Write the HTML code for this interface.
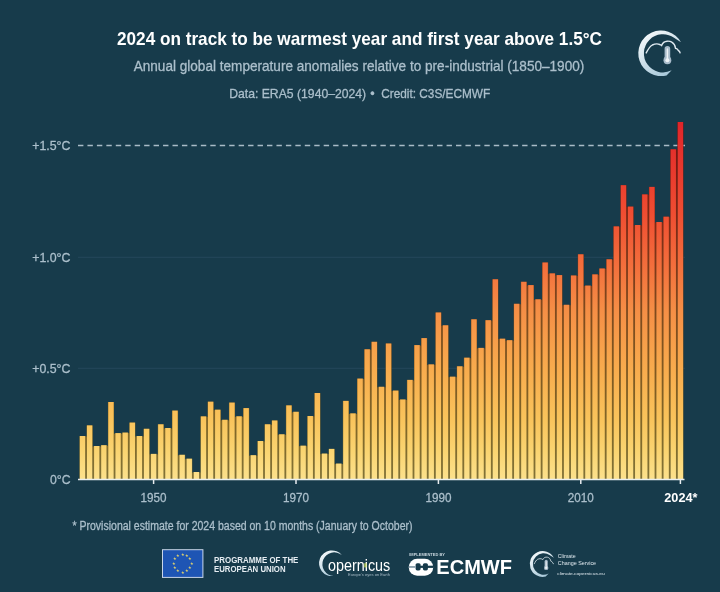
<!DOCTYPE html>
<html lang="en"><head><meta charset="utf-8"><title>2024 on track to be warmest year</title>
<style>
html,body{margin:0;padding:0;background:#173b4b;}
body{width:720px;height:592px;overflow:hidden;}
svg{display:block;font-family:"Liberation Sans",Arial,sans-serif;}
text{font-family:"Liberation Sans",Arial,sans-serif;}
.t{stroke:#abbfcb;stroke-width:0.3px;}
</style></head><body>
<svg width="720" height="592" viewBox="0 0 720 592">
<defs>
<linearGradient id="g" gradientUnits="userSpaceOnUse" x1="0" y1="479" x2="0" y2="122">
<stop offset="0" stop-color="#fce18c"/>
<stop offset="0.08" stop-color="#fad470"/>
<stop offset="0.17" stop-color="#f9c35b"/>
<stop offset="0.31" stop-color="#f8ab4d"/>
<stop offset="0.47" stop-color="#f58f46"/>
<stop offset="0.6" stop-color="#f36e3c"/>
<stop offset="0.74" stop-color="#ef4e32"/>
<stop offset="0.87" stop-color="#e8382d"/>
<stop offset="1" stop-color="#df252a"/>
</linearGradient>
<linearGradient id="gd" gradientUnits="userSpaceOnUse" x1="0" y1="479" x2="0" y2="122">
<stop offset="0" stop-color="#827236"/>
<stop offset="0.12" stop-color="#816929"/>
<stop offset="0.31" stop-color="#805820"/>
<stop offset="0.47" stop-color="#7f4a1d"/>
<stop offset="0.6" stop-color="#7e3919"/>
<stop offset="0.74" stop-color="#7c2815"/>
<stop offset="0.87" stop-color="#781d12"/>
<stop offset="1" stop-color="#731311"/>
</linearGradient>
<linearGradient id="cg" x1="0" y1="0" x2="0.6" y2="1">
<stop offset="0" stop-color="#ffffff"/><stop offset="1" stop-color="#a9c9da"/>
</linearGradient>
</defs>
<rect width="720" height="592" fill="#173b4b"/>

<!-- titles -->
<text x="117" y="45" font-size="17.8" font-weight="bold" fill="#ffffff" textLength="485" lengthAdjust="spacingAndGlyphs">2024 on track to be warmest year and first year above 1.5°C</text>
<text class="t" x="133.7" y="71.3" font-size="14" fill="#abbfcb" textLength="450.6" lengthAdjust="spacingAndGlyphs">Annual global temperature anomalies relative to pre-industrial (1850–1900)</text>
<text class="t" y="98" font-size="13" fill="#abbfcb"><tspan x="229.2" textLength="137" lengthAdjust="spacingAndGlyphs">Data: ERA5 (1940–2024)</tspan><tspan x="370.3" textLength="4.4" lengthAdjust="spacingAndGlyphs">•</tspan><tspan x="381.2" textLength="109" lengthAdjust="spacingAndGlyphs">Credit: C3S/ECMWF</tspan></text>

<!-- gridlines -->
<line x1="78" x2="685" y1="257.3" y2="257.3" stroke="#25485a" stroke-width="1"/>
<line x1="78" x2="685" y1="368.3" y2="368.3" stroke="#25485a" stroke-width="1"/>
<line x1="78" x2="685" y1="145.4" y2="145.4" stroke="#a9bbc6" stroke-width="1.5" stroke-dasharray="5.4 4.05"/>

<!-- y labels -->
<g class="t" font-size="13" fill="#abbfcb" text-anchor="end">
<text x="70.5" y="150.2" textLength="38.3" lengthAdjust="spacingAndGlyphs">+1.5°C</text>
<text x="70.5" y="261.6" textLength="38.3" lengthAdjust="spacingAndGlyphs">+1.0°C</text>
<text x="70.5" y="372.7" textLength="38.3" lengthAdjust="spacingAndGlyphs">+0.5°C</text>
<text x="70.5" y="484" textLength="20.5" lengthAdjust="spacingAndGlyphs">0°C</text>
</g>

<!-- bars -->
<g fill="url(#gd)">
<rect x="79.45" y="436.0" width="6.10" height="43.0"/>
<rect x="85.10" y="436.5" width="1.92" height="42.5"/>
<rect x="86.57" y="425.4" width="6.10" height="53.6"/>
<rect x="92.22" y="446.5" width="1.92" height="32.5"/>
<rect x="93.69" y="446.0" width="6.10" height="33.0"/>
<rect x="99.34" y="446.5" width="1.92" height="32.5"/>
<rect x="100.80" y="445.2" width="6.10" height="33.8"/>
<rect x="106.45" y="445.7" width="1.92" height="33.3"/>
<rect x="107.92" y="402.0" width="6.10" height="77.0"/>
<rect x="113.57" y="433.6" width="1.92" height="45.4"/>
<rect x="115.04" y="433.1" width="6.10" height="45.9"/>
<rect x="120.69" y="433.6" width="1.92" height="45.4"/>
<rect x="122.16" y="432.6" width="6.10" height="46.4"/>
<rect x="127.81" y="433.1" width="1.92" height="45.9"/>
<rect x="129.28" y="422.6" width="6.10" height="56.4"/>
<rect x="134.93" y="436.5" width="1.92" height="42.5"/>
<rect x="136.39" y="436.0" width="6.10" height="43.0"/>
<rect x="142.04" y="436.5" width="1.92" height="42.5"/>
<rect x="143.51" y="428.8" width="6.10" height="50.2"/>
<rect x="149.16" y="454.4" width="1.92" height="24.6"/>
<rect x="150.63" y="453.9" width="6.10" height="25.1"/>
<rect x="156.28" y="454.4" width="1.92" height="24.6"/>
<rect x="157.75" y="424.3" width="6.10" height="54.7"/>
<rect x="163.40" y="428.5" width="1.92" height="50.5"/>
<rect x="164.87" y="428.0" width="6.10" height="51.0"/>
<rect x="170.52" y="428.5" width="1.92" height="50.5"/>
<rect x="171.98" y="410.6" width="6.10" height="68.4"/>
<rect x="177.63" y="455.3" width="1.92" height="23.7"/>
<rect x="179.10" y="454.8" width="6.10" height="24.2"/>
<rect x="184.75" y="459.2" width="1.92" height="19.8"/>
<rect x="186.22" y="458.7" width="6.10" height="20.3"/>
<rect x="191.87" y="472.5" width="1.92" height="6.5"/>
<rect x="193.34" y="472.0" width="6.10" height="7.0"/>
<rect x="198.99" y="472.5" width="1.92" height="6.5"/>
<rect x="200.46" y="416.4" width="6.10" height="62.6"/>
<rect x="206.11" y="416.9" width="1.92" height="62.1"/>
<rect x="207.57" y="401.7" width="6.10" height="77.3"/>
<rect x="213.22" y="410.2" width="1.92" height="68.8"/>
<rect x="214.69" y="409.7" width="6.10" height="69.3"/>
<rect x="220.34" y="420.3" width="1.92" height="58.7"/>
<rect x="221.81" y="419.8" width="6.10" height="59.2"/>
<rect x="227.46" y="420.3" width="1.92" height="58.7"/>
<rect x="228.93" y="402.6" width="6.10" height="76.4"/>
<rect x="234.58" y="416.8" width="1.92" height="62.2"/>
<rect x="236.05" y="416.3" width="6.10" height="62.7"/>
<rect x="241.70" y="416.8" width="1.92" height="62.2"/>
<rect x="243.16" y="408.1" width="6.10" height="70.9"/>
<rect x="248.81" y="455.7" width="1.92" height="23.3"/>
<rect x="250.28" y="455.2" width="6.10" height="23.8"/>
<rect x="255.93" y="455.7" width="1.92" height="23.3"/>
<rect x="257.40" y="441.0" width="6.10" height="38.0"/>
<rect x="263.05" y="441.5" width="1.92" height="37.5"/>
<rect x="264.52" y="424.3" width="6.10" height="54.7"/>
<rect x="270.17" y="424.8" width="1.92" height="54.2"/>
<rect x="271.64" y="420.5" width="6.10" height="58.5"/>
<rect x="277.29" y="434.8" width="1.92" height="44.2"/>
<rect x="278.75" y="434.3" width="6.10" height="44.7"/>
<rect x="284.40" y="434.8" width="1.92" height="44.2"/>
<rect x="285.87" y="405.4" width="6.10" height="73.6"/>
<rect x="291.52" y="412.3" width="1.92" height="66.7"/>
<rect x="292.99" y="411.8" width="6.10" height="67.2"/>
<rect x="298.64" y="446.2" width="1.92" height="32.8"/>
<rect x="300.11" y="445.7" width="6.10" height="33.3"/>
<rect x="305.76" y="446.2" width="1.92" height="32.8"/>
<rect x="307.23" y="416.0" width="6.10" height="63.0"/>
<rect x="312.88" y="416.5" width="1.92" height="62.5"/>
<rect x="314.34" y="393.0" width="6.10" height="86.0"/>
<rect x="319.99" y="454.1" width="1.92" height="24.9"/>
<rect x="321.46" y="453.6" width="6.10" height="25.4"/>
<rect x="327.11" y="454.1" width="1.92" height="24.9"/>
<rect x="328.58" y="448.9" width="6.10" height="30.1"/>
<rect x="334.23" y="464.1" width="1.92" height="14.9"/>
<rect x="335.70" y="463.6" width="6.10" height="15.4"/>
<rect x="341.35" y="464.1" width="1.92" height="14.9"/>
<rect x="342.82" y="400.9" width="6.10" height="78.1"/>
<rect x="348.47" y="413.9" width="1.92" height="65.1"/>
<rect x="349.93" y="413.4" width="6.10" height="65.6"/>
<rect x="355.58" y="413.9" width="1.92" height="65.1"/>
<rect x="357.05" y="378.6" width="6.10" height="100.4"/>
<rect x="362.70" y="379.1" width="1.92" height="99.9"/>
<rect x="364.17" y="349.3" width="6.10" height="129.7"/>
<rect x="369.82" y="349.8" width="1.92" height="129.2"/>
<rect x="371.29" y="341.8" width="6.10" height="137.2"/>
<rect x="376.94" y="387.3" width="1.92" height="91.7"/>
<rect x="378.41" y="386.8" width="6.10" height="92.2"/>
<rect x="384.06" y="387.3" width="1.92" height="91.7"/>
<rect x="385.52" y="343.5" width="6.10" height="135.5"/>
<rect x="391.17" y="391.1" width="1.92" height="87.9"/>
<rect x="392.64" y="390.6" width="6.10" height="88.4"/>
<rect x="398.29" y="400.0" width="1.92" height="79.0"/>
<rect x="399.76" y="399.5" width="6.10" height="79.5"/>
<rect x="405.41" y="400.0" width="1.92" height="79.0"/>
<rect x="406.88" y="379.9" width="6.10" height="99.1"/>
<rect x="412.53" y="380.4" width="1.92" height="98.6"/>
<rect x="414.00" y="345.1" width="6.10" height="133.9"/>
<rect x="419.65" y="345.6" width="1.92" height="133.4"/>
<rect x="421.11" y="338.1" width="6.10" height="140.9"/>
<rect x="426.76" y="364.9" width="1.92" height="114.1"/>
<rect x="428.23" y="364.4" width="6.10" height="114.6"/>
<rect x="433.88" y="364.9" width="1.92" height="114.1"/>
<rect x="435.35" y="312.5" width="6.10" height="166.5"/>
<rect x="441.00" y="325.8" width="1.92" height="153.2"/>
<rect x="442.47" y="325.3" width="6.10" height="153.7"/>
<rect x="448.12" y="377.2" width="1.92" height="101.8"/>
<rect x="449.59" y="376.7" width="6.10" height="102.3"/>
<rect x="455.24" y="377.2" width="1.92" height="101.8"/>
<rect x="456.70" y="366.3" width="6.10" height="112.7"/>
<rect x="462.35" y="366.8" width="1.92" height="112.2"/>
<rect x="463.82" y="357.7" width="6.10" height="121.3"/>
<rect x="469.47" y="358.2" width="1.92" height="120.8"/>
<rect x="470.94" y="319.3" width="6.10" height="159.7"/>
<rect x="476.59" y="348.4" width="1.92" height="130.6"/>
<rect x="478.06" y="347.9" width="6.10" height="131.1"/>
<rect x="483.71" y="348.4" width="1.92" height="130.6"/>
<rect x="485.18" y="320.2" width="6.10" height="158.8"/>
<rect x="490.83" y="320.7" width="1.92" height="158.3"/>
<rect x="492.29" y="279.3" width="6.10" height="199.7"/>
<rect x="497.94" y="339.2" width="1.92" height="139.8"/>
<rect x="499.41" y="338.7" width="6.10" height="140.3"/>
<rect x="505.06" y="340.7" width="1.92" height="138.3"/>
<rect x="506.53" y="340.2" width="6.10" height="138.8"/>
<rect x="512.18" y="340.7" width="1.92" height="138.3"/>
<rect x="513.65" y="303.8" width="6.10" height="175.2"/>
<rect x="519.30" y="304.3" width="1.92" height="174.7"/>
<rect x="520.77" y="281.8" width="6.10" height="197.2"/>
<rect x="526.42" y="285.6" width="1.92" height="193.4"/>
<rect x="527.88" y="285.1" width="6.10" height="193.9"/>
<rect x="533.53" y="299.8" width="1.92" height="179.2"/>
<rect x="535.00" y="299.3" width="6.10" height="179.7"/>
<rect x="540.65" y="299.8" width="1.92" height="179.2"/>
<rect x="542.12" y="262.5" width="6.10" height="216.5"/>
<rect x="547.77" y="273.9" width="1.92" height="205.1"/>
<rect x="549.24" y="273.4" width="6.10" height="205.6"/>
<rect x="554.89" y="275.6" width="1.92" height="203.4"/>
<rect x="556.36" y="275.1" width="6.10" height="203.9"/>
<rect x="562.01" y="305.3" width="1.92" height="173.7"/>
<rect x="563.47" y="304.8" width="6.10" height="174.2"/>
<rect x="569.12" y="305.3" width="1.92" height="173.7"/>
<rect x="570.59" y="275.5" width="6.10" height="203.5"/>
<rect x="576.24" y="276.0" width="1.92" height="203.0"/>
<rect x="577.71" y="254.3" width="6.10" height="224.7"/>
<rect x="583.36" y="286.1" width="1.92" height="192.9"/>
<rect x="584.83" y="285.6" width="6.10" height="193.4"/>
<rect x="590.48" y="286.1" width="1.92" height="192.9"/>
<rect x="591.95" y="274.4" width="6.10" height="204.6"/>
<rect x="597.60" y="274.9" width="1.92" height="204.1"/>
<rect x="599.06" y="268.5" width="6.10" height="210.5"/>
<rect x="604.71" y="269.0" width="1.92" height="210.0"/>
<rect x="606.18" y="259.3" width="6.10" height="219.7"/>
<rect x="611.83" y="259.8" width="1.92" height="219.2"/>
<rect x="613.30" y="226.4" width="6.10" height="252.6"/>
<rect x="618.95" y="226.9" width="1.92" height="252.1"/>
<rect x="620.42" y="185.2" width="6.10" height="293.8"/>
<rect x="626.07" y="207.1" width="1.92" height="271.9"/>
<rect x="627.54" y="206.6" width="6.10" height="272.4"/>
<rect x="633.19" y="225.5" width="1.92" height="253.5"/>
<rect x="634.65" y="225.0" width="6.10" height="254.0"/>
<rect x="640.30" y="225.5" width="1.92" height="253.5"/>
<rect x="641.77" y="194.4" width="6.10" height="284.6"/>
<rect x="647.42" y="194.9" width="1.92" height="284.1"/>
<rect x="648.89" y="186.9" width="6.10" height="292.1"/>
<rect x="654.54" y="222.5" width="1.92" height="256.5"/>
<rect x="656.01" y="222.0" width="6.10" height="257.0"/>
<rect x="661.66" y="222.5" width="1.92" height="256.5"/>
<rect x="663.13" y="216.7" width="6.10" height="262.3"/>
<rect x="668.78" y="217.2" width="1.92" height="261.8"/>
<rect x="670.24" y="149.3" width="6.10" height="329.7"/>
<rect x="675.89" y="149.8" width="1.92" height="329.2"/>
<rect x="677.36" y="122.0" width="6.10" height="357.0"/>
</g>
<g fill="url(#g)">
<rect x="79.85" y="436.0" width="5.3" height="43.0"/>
<rect x="86.97" y="425.4" width="5.3" height="53.6"/>
<rect x="94.09" y="446.0" width="5.3" height="33.0"/>
<rect x="101.20" y="445.2" width="5.3" height="33.8"/>
<rect x="108.32" y="402.0" width="5.3" height="77.0"/>
<rect x="115.44" y="433.1" width="5.3" height="45.9"/>
<rect x="122.56" y="432.6" width="5.3" height="46.4"/>
<rect x="129.68" y="422.6" width="5.3" height="56.4"/>
<rect x="136.79" y="436.0" width="5.3" height="43.0"/>
<rect x="143.91" y="428.8" width="5.3" height="50.2"/>
<rect x="151.03" y="453.9" width="5.3" height="25.1"/>
<rect x="158.15" y="424.3" width="5.3" height="54.7"/>
<rect x="165.27" y="428.0" width="5.3" height="51.0"/>
<rect x="172.38" y="410.6" width="5.3" height="68.4"/>
<rect x="179.50" y="454.8" width="5.3" height="24.2"/>
<rect x="186.62" y="458.7" width="5.3" height="20.3"/>
<rect x="193.74" y="472.0" width="5.3" height="7.0"/>
<rect x="200.86" y="416.4" width="5.3" height="62.6"/>
<rect x="207.97" y="401.7" width="5.3" height="77.3"/>
<rect x="215.09" y="409.7" width="5.3" height="69.3"/>
<rect x="222.21" y="419.8" width="5.3" height="59.2"/>
<rect x="229.33" y="402.6" width="5.3" height="76.4"/>
<rect x="236.45" y="416.3" width="5.3" height="62.7"/>
<rect x="243.56" y="408.1" width="5.3" height="70.9"/>
<rect x="250.68" y="455.2" width="5.3" height="23.8"/>
<rect x="257.80" y="441.0" width="5.3" height="38.0"/>
<rect x="264.92" y="424.3" width="5.3" height="54.7"/>
<rect x="272.04" y="420.5" width="5.3" height="58.5"/>
<rect x="279.15" y="434.3" width="5.3" height="44.7"/>
<rect x="286.27" y="405.4" width="5.3" height="73.6"/>
<rect x="293.39" y="411.8" width="5.3" height="67.2"/>
<rect x="300.51" y="445.7" width="5.3" height="33.3"/>
<rect x="307.63" y="416.0" width="5.3" height="63.0"/>
<rect x="314.74" y="393.0" width="5.3" height="86.0"/>
<rect x="321.86" y="453.6" width="5.3" height="25.4"/>
<rect x="328.98" y="448.9" width="5.3" height="30.1"/>
<rect x="336.10" y="463.6" width="5.3" height="15.4"/>
<rect x="343.22" y="400.9" width="5.3" height="78.1"/>
<rect x="350.33" y="413.4" width="5.3" height="65.6"/>
<rect x="357.45" y="378.6" width="5.3" height="100.4"/>
<rect x="364.57" y="349.3" width="5.3" height="129.7"/>
<rect x="371.69" y="341.8" width="5.3" height="137.2"/>
<rect x="378.81" y="386.8" width="5.3" height="92.2"/>
<rect x="385.92" y="343.5" width="5.3" height="135.5"/>
<rect x="393.04" y="390.6" width="5.3" height="88.4"/>
<rect x="400.16" y="399.5" width="5.3" height="79.5"/>
<rect x="407.28" y="379.9" width="5.3" height="99.1"/>
<rect x="414.40" y="345.1" width="5.3" height="133.9"/>
<rect x="421.51" y="338.1" width="5.3" height="140.9"/>
<rect x="428.63" y="364.4" width="5.3" height="114.6"/>
<rect x="435.75" y="312.5" width="5.3" height="166.5"/>
<rect x="442.87" y="325.3" width="5.3" height="153.7"/>
<rect x="449.99" y="376.7" width="5.3" height="102.3"/>
<rect x="457.10" y="366.3" width="5.3" height="112.7"/>
<rect x="464.22" y="357.7" width="5.3" height="121.3"/>
<rect x="471.34" y="319.3" width="5.3" height="159.7"/>
<rect x="478.46" y="347.9" width="5.3" height="131.1"/>
<rect x="485.58" y="320.2" width="5.3" height="158.8"/>
<rect x="492.69" y="279.3" width="5.3" height="199.7"/>
<rect x="499.81" y="338.7" width="5.3" height="140.3"/>
<rect x="506.93" y="340.2" width="5.3" height="138.8"/>
<rect x="514.05" y="303.8" width="5.3" height="175.2"/>
<rect x="521.17" y="281.8" width="5.3" height="197.2"/>
<rect x="528.28" y="285.1" width="5.3" height="193.9"/>
<rect x="535.40" y="299.3" width="5.3" height="179.7"/>
<rect x="542.52" y="262.5" width="5.3" height="216.5"/>
<rect x="549.64" y="273.4" width="5.3" height="205.6"/>
<rect x="556.76" y="275.1" width="5.3" height="203.9"/>
<rect x="563.87" y="304.8" width="5.3" height="174.2"/>
<rect x="570.99" y="275.5" width="5.3" height="203.5"/>
<rect x="578.11" y="254.3" width="5.3" height="224.7"/>
<rect x="585.23" y="285.6" width="5.3" height="193.4"/>
<rect x="592.35" y="274.4" width="5.3" height="204.6"/>
<rect x="599.46" y="268.5" width="5.3" height="210.5"/>
<rect x="606.58" y="259.3" width="5.3" height="219.7"/>
<rect x="613.70" y="226.4" width="5.3" height="252.6"/>
<rect x="620.82" y="185.2" width="5.3" height="293.8"/>
<rect x="627.94" y="206.6" width="5.3" height="272.4"/>
<rect x="635.05" y="225.0" width="5.3" height="254.0"/>
<rect x="642.17" y="194.4" width="5.3" height="284.6"/>
<rect x="649.29" y="186.9" width="5.3" height="292.1"/>
<rect x="656.41" y="222.0" width="5.3" height="257.0"/>
<rect x="663.53" y="216.7" width="5.3" height="262.3"/>
<rect x="670.64" y="149.3" width="5.3" height="329.7"/>
<rect x="677.76" y="122.0" width="5.3" height="357.0"/>
</g>

<!-- axis -->
<g stroke="#e8edf0" stroke-width="1.5">
<line x1="78" x2="684.5" y1="479.4" y2="479.4"/>
<line x1="153.6" x2="153.6" y1="479" y2="484"/>
<line x1="296.0" x2="296.0" y1="479" y2="484"/>
<line x1="438.4" x2="438.4" y1="479" y2="484"/>
<line x1="580.8" x2="580.8" y1="479" y2="484"/>
<line x1="680.4" x2="680.4" y1="479" y2="484"/>
</g>
<g class="t" font-size="13" fill="#abbfcb" text-anchor="middle">
<text x="153.6" y="502" textLength="26" lengthAdjust="spacingAndGlyphs">1950</text>
<text x="296.0" y="502" textLength="26" lengthAdjust="spacingAndGlyphs">1970</text>
<text x="438.4" y="502" textLength="26" lengthAdjust="spacingAndGlyphs">1990</text>
<text x="580.8" y="502" textLength="26" lengthAdjust="spacingAndGlyphs">2010</text>
<text x="680.9" y="502" font-weight="bold" fill="#ffffff" stroke="none" textLength="33.2" lengthAdjust="spacingAndGlyphs">2024*</text>
</g>

<!-- footnote -->
<text class="t" x="72.5" y="530" font-size="12" fill="#abbfcb" textLength="340" lengthAdjust="spacingAndGlyphs">* Provisional estimate for 2024 based on 10 months (January to October)</text>

<!-- top-right icon -->
<g transform="translate(661.05 53.35)">
<path d="M19.90 -11.03 A22.75 22.75 0 1 0 5.50 22.07 L10.59 16.95 A19.05 19.05 0 1 1 12.99 -15.49 Z" fill="url(#cg)"/>
<path d="M-14.85 -0.45 C-13 -4 -11 -7.2 -8.75 -8.35 C-6 -9.6 -3 -9.6 -1.35 -8.85 C-0.6 -8.6 0 -8.2 0.55 -7.8 C1.6 -10.6 4 -12 6.05 -12.15 C8 -12.3 9.8 -11.8 10.75 -11.15 C13 -9.8 14.2 -7.5 14.45 -5.15 C15.8 -4.9 16.8 -4 17.25 -2.85 C18.3 -2.4 18.9 -1.5 19.05 -0.45" fill="none" stroke="#dfe9f0" stroke-width="1.4" stroke-linecap="round"/>
<rect x="3.55" y="-7.4" width="5.6" height="14" rx="2.8" fill="#a9bccb"/>
<circle cx="6.35" cy="6.9" r="3.9" fill="#a9bccb"/>
<rect x="5.6" y="-5" width="1.5" height="11.5" rx="0.75" fill="#eef3f6"/>
<circle cx="6.35" cy="7" r="2" fill="#eef3f6"/>
</g>

<!-- EU flag -->
<g id="eu">
<rect x="162" y="549.2" width="41.4" height="28.7" fill="#c9d6ea"/>
<rect x="163" y="550.2" width="39.4" height="26.7" fill="#1e55b4"/>
<g fill="#e9d86a" font-size="3.6" text-anchor="middle">
<text x="182.8" y="555.9">★</text><text x="187.2" y="557.1">★</text><text x="190.4" y="560.3">★</text><text x="191.6" y="564.7">★</text>
<text x="190.4" y="569.1">★</text><text x="187.2" y="572.3">★</text><text x="182.8" y="573.5">★</text><text x="178.4" y="572.3">★</text>
<text x="175.2" y="569.1">★</text><text x="174" y="564.7">★</text><text x="175.2" y="560.3">★</text><text x="178.4" y="557.1">★</text>
</g>
</g>
<g font-size="8.6" font-weight="bold" fill="#e6edf2">
<text x="214" y="562.9" textLength="84.4" lengthAdjust="spacingAndGlyphs">PROGRAMME OF THE</text>
<text x="214" y="572.3" textLength="71.6" lengthAdjust="spacingAndGlyphs">EUROPEAN UNION</text>
</g>

<!-- Copernicus -->
<g id="cop">
<path d="M10.06 -8.00 A12.85 12.85 0 1 0 1.72 12.73 A11.83 11.83 0 1 1 10.06 -8.00 Z" fill="url(#cg)" transform="translate(331.9 563.25)"/>
<text x="328" y="571.3" font-size="16" fill="#ffffff" textLength="62.3" lengthAdjust="spacingAndGlyphs">opernicus</text>
<rect x="364.2" y="563.2" width="2.4" height="4.2" fill="#c6dc5a" opacity="0.75"/>
<text x="348" y="575.9" font-size="3.4" fill="#a9bcc8" textLength="42" lengthAdjust="spacingAndGlyphs">Europe's eyes on Earth</text>
</g>

<!-- ECMWF -->
<g id="ecmwf" fill="#ffffff">
<text x="409.2" y="555.7" font-size="3.9" font-weight="bold" fill="#c9d6de" textLength="35.8" lengthAdjust="spacingAndGlyphs">IMPLEMENTED BY</text>
<rect x="408.8" y="558.8" width="24.4" height="17" rx="8.4"/>
<g fill="#173b4b">
<rect x="415.6" y="563.2" width="5" height="7.2" rx="1.6"/>
<rect x="422.9" y="563.2" width="5" height="7.2" rx="1.6"/>
<rect x="418" y="565.7" width="15.6" height="2.2"/>
</g>
<rect x="408.8" y="566" width="7" height="1.9" fill="#8ea3b0"/>
<text x="436.3" y="574.3" font-size="20.3" font-weight="bold" textLength="75.7" lengthAdjust="spacingAndGlyphs">ECMWF</text>
</g>

<!-- C3S -->
<g id="c3s">
<g transform="translate(542.6 564) scale(0.565)">
<path d="M19.90 -11.03 A22.75 22.75 0 1 0 5.50 22.07 L10.59 16.95 A19.05 19.05 0 1 1 12.99 -15.49 Z" fill="url(#cg)"/>
<path d="M-14.85 -0.45 C-13 -4 -11 -7.2 -8.75 -8.35 C-6 -9.6 -3 -9.6 -1.35 -8.85 C-0.6 -8.6 0 -8.2 0.55 -7.8 C1.6 -10.6 4 -12 6.05 -12.15 C8 -12.3 9.8 -11.8 10.75 -11.15 C13 -9.8 14.2 -7.5 14.45 -5.15 C15.8 -4.9 16.8 -4 17.25 -2.85 C18.3 -2.4 18.9 -1.5 19.05 -0.45" fill="none" stroke="#dfe9f0" stroke-width="1.4" stroke-linecap="round"/>
<rect x="3.55" y="-7.4" width="5.6" height="14" rx="2.8" fill="#a9bccb"/>
<circle cx="6.35" cy="6.9" r="3.9" fill="#a9bccb"/>
<rect x="5.6" y="-5" width="1.5" height="11.5" rx="0.75" fill="#eef3f6"/>
<circle cx="6.35" cy="7" r="2" fill="#eef3f6"/>
</g>
<g fill="#dfe8ee">
<text x="557.8" y="558" font-size="5" textLength="17.8" lengthAdjust="spacingAndGlyphs">Climate</text>
<text x="557.8" y="564.5" font-size="5" textLength="38.3" lengthAdjust="spacingAndGlyphs">Change Service</text>
<text x="557.2" y="574.8" font-size="4" textLength="47.5" lengthAdjust="spacingAndGlyphs">climate.copernicus.eu</text>
</g>
</g>
</svg>
</body></html>
